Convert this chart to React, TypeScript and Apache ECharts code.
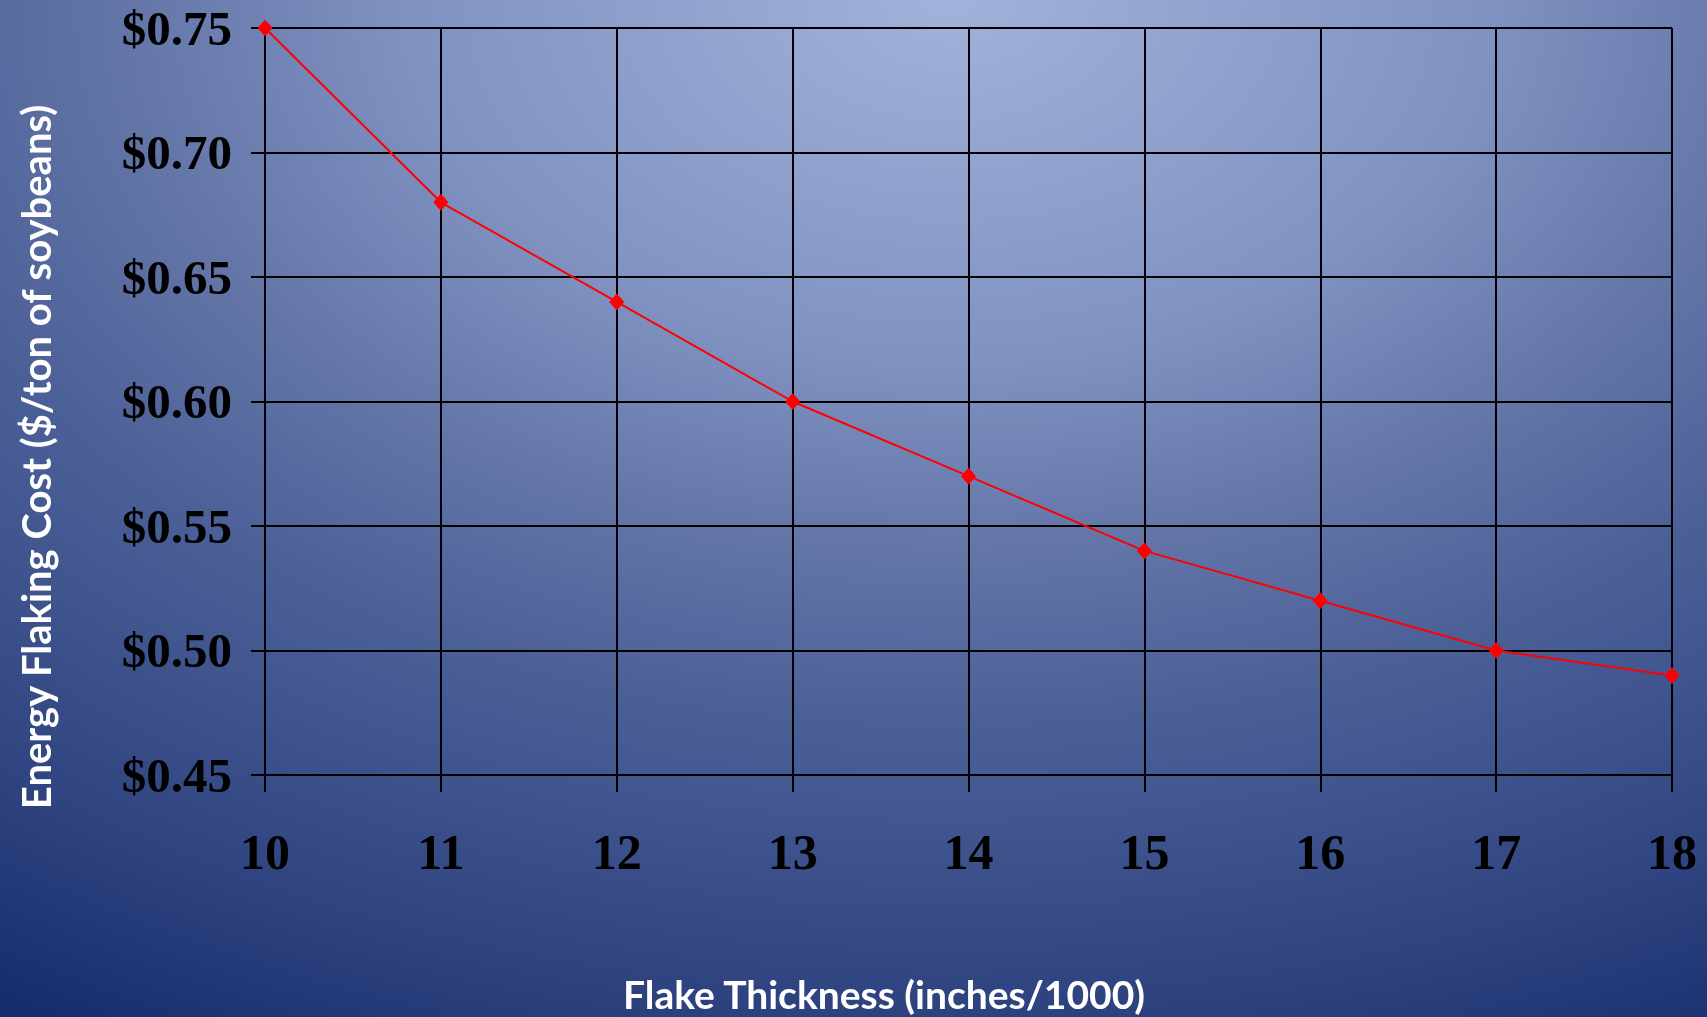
import React, { useEffect, useRef } from "react";
import * as echarts from "echarts";

const thickness = [10, 11, 12, 13, 14, 15, 16, 17, 18];
const cost = [0.75, 0.68, 0.64, 0.6, 0.57, 0.54, 0.52, 0.5, 0.49];
const yTitle = "Energy Flaking Cost ($/ton of soybeans)";
const xTitle = "Flake Thickness (inches/1000)";

export default function App() {
  const ref = useRef<HTMLDivElement>(null);
  useEffect(() => {
    document.body.style.margin = "0";
    const chart = echarts.init(ref.current!, null, { renderer: "svg" });
    const serif = "'Liberation Serif', 'Times New Roman', serif";
    const sans = "Lato, 'Open Sans', sans-serif";
    chart.setOption({
      animation: false,
      backgroundColor: "transparent",
      grid: { left: 265, right: 35, top: 28, bottom: 242 },
      xAxis: {
        type: "value",
        min: 10,
        max: 18,
        interval: 1,
        axisLine: { show: true, lineStyle: { color: "#000", width: 2 } },
        axisTick: { show: true, length: 17, lineStyle: { color: "#000", width: 2 } },
        splitLine: { show: true, lineStyle: { color: "#000", width: 2 } },
        axisLabel: {
          color: "#000",
          fontFamily: serif,
          fontWeight: "bold",
          fontSize: 50,
          margin: 52,
        },
      },
      yAxis: {
        type: "value",
        min: 0.45,
        max: 0.75,
        interval: 0.05,
        axisLine: { show: true, lineStyle: { color: "#000", width: 2 } },
        axisTick: { show: true, length: 14, lineStyle: { color: "#000", width: 2 } },
        splitLine: { show: true, lineStyle: { color: "#000", width: 2 } },
        axisLabel: {
          color: "#000",
          fontFamily: serif,
          fontWeight: "bold",
          fontSize: 49,
          margin: 33,
          formatter: (v: number) => "$" + v.toFixed(2),
        },
      },
      graphic: [
        {
          type: "text",
          x: 36,
          y: 457,
          rotation: Math.PI / 2,
          style: {
            text: yTitle,
            fill: "#fff",
            font: `bold 40px ${sans}`,
            align: "center",
            verticalAlign: "middle",
          },
        },
        {
          type: "text",
          x: 884,
          y: 994,
          style: {
            text: xTitle,
            fill: "#fff",
            font: `bold 39px ${sans}`,
            align: "center",
            verticalAlign: "middle",
          },
        },
      ],
      series: [
        {
          type: "line",
          data: thickness.map((t, i) => [t, cost[i]]),
          lineStyle: { color: "#ff0000", width: 2 },
          itemStyle: { color: "#ff0000" },
          symbol: "diamond",
          symbolSize: [15, 17],
        },
      ],
    });
    return () => chart.dispose();
  }, []);
  return (
    <div
      ref={ref}
      style={{
        position: "fixed",
        left: 0,
        top: 0,
        width: 1707,
        height: 1017,
        background:
          "radial-gradient(ellipse 1800px 1200px at 950px 0px, #a2b2da 0%, #8092c2 30%, #6577a8 45%, #4c6098 60%, #334883 80%, #152a6b 100%)",
      }}
    />
  );
}
